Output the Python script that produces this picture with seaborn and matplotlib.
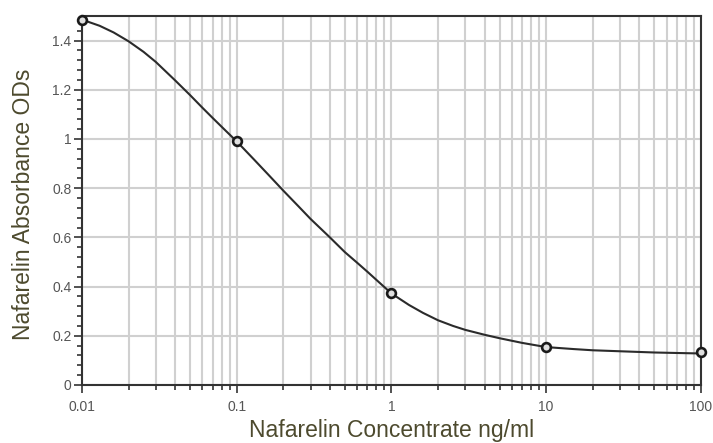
import seaborn as sns
import matplotlib.pyplot as plt
from matplotlib.ticker import LogLocator, MultipleLocator, FixedLocator, FixedFormatter
import pandas as pd

# ----------------------------
# Standard points and fitted curve
# ----------------------------
conc = [0.01, 0.1, 1, 10, 100]
od = [1.485, 0.99, 0.372, 0.154, 0.134]

curve_x = [0.01, 0.013, 0.016, 0.02, 0.025, 0.03, 0.04, 0.05, 0.06, 0.07, 0.085,
           0.1, 0.13, 0.16, 0.2, 0.25, 0.3, 0.4, 0.5, 0.6, 0.7, 0.85,
           1, 1.3, 1.6, 2, 2.5, 3, 4, 5, 7, 10, 15, 20, 30, 50, 70, 100]
curve_y = [1.485, 1.460, 1.433, 1.397, 1.354, 1.313, 1.238, 1.178, 1.127, 1.085, 1.033,
           0.99, 0.915, 0.855, 0.79, 0.727, 0.675, 0.60, 0.54, 0.497, 0.46, 0.412,
           0.372, 0.325, 0.293, 0.263, 0.24, 0.224, 0.204, 0.19, 0.171, 0.154,
           0.146, 0.141, 0.137, 0.132, 0.130, 0.128]

xtick_vals = [0.01, 0.1, 1, 10, 100]
xtick_text = ["0.01", "0.1", "1", "10", "100"]
ytick_vals = [0, 0.2, 0.4, 0.6, 0.8, 1.0, 1.2, 1.4]
ytick_text = ["0", "0.2", "0.4", "0.6", "0.8", "1", "1.2", "1.4"]

pts = pd.DataFrame({"conc": conc, "od": od})
fit = pd.DataFrame({"conc": curve_x, "od": curve_y})

sns.set_style("white")
plt.rcParams["font.family"] = ["Liberation Sans", "DejaVu Sans"]

fig = plt.figure(figsize=(7.13, 4.43), dpi=100)
ax = fig.add_axes([0.115, 0.131, 0.868, 0.833])

sns.lineplot(data=fit, x="conc", y="od", ax=ax, color="#2b2b2b", linewidth=1.5,
             estimator=None, sort=False, zorder=3)
sns.scatterplot(data=pts, x="conc", y="od", ax=ax, marker="o", s=40,
                facecolor="#e0e0e0", edgecolor="#1a1a1a", linewidth=1.9,
                zorder=4, clip_on=False)

ax.set_xscale("log")
ax.set_xlim(0.01, 100)
ax.set_ylim(0, 1.5)

ax.xaxis.set_major_locator(FixedLocator(xtick_vals))
ax.xaxis.set_major_formatter(FixedFormatter(xtick_text))
ax.xaxis.set_minor_locator(LogLocator(base=10, subs=range(2, 10)))
ax.yaxis.set_major_locator(FixedLocator(ytick_vals))
ax.yaxis.set_major_formatter(FixedFormatter(ytick_text))
ax.yaxis.set_minor_locator(MultipleLocator(0.04))

ax.grid(True, which="major", axis="both", color="#d0d0d0", linewidth=1.5)
ax.grid(True, which="minor", axis="x", color="#d0d0d0", linewidth=1.5)
ax.set_axisbelow(True)

for side in ["left", "bottom", "top", "right"]:
    ax.spines[side].set_visible(True)
    ax.spines[side].set_color("#333333")
    ax.spines[side].set_linewidth(1.5)

ax.tick_params(axis="both", which="major", direction="out", length=6, width=1.2,
               color="#333333", labelsize=10, labelcolor="#555555",
               bottom=True, left=True)
ax.tick_params(axis="x", which="major", pad=5)
ax.tick_params(axis="y", which="major", pad=1.5)
ax.tick_params(axis="both", which="minor", direction="out", length=3.5, width=1.2,
               color="#333333", bottom=True, left=True)

ax.set_xlabel("Nafarelin Concentrate ng/ml", fontsize=16.5, color="#4d4a2e")
ax.set_ylabel("Nafarelin Absorbance ODs", fontsize=16.5, color="#4d4a2e")
ax.xaxis.set_label_coords(0.5, -0.092)
ax.yaxis.set_label_coords(-0.076, 0.49)

plt.savefig("out.png", dpi=100)
plt.close()
